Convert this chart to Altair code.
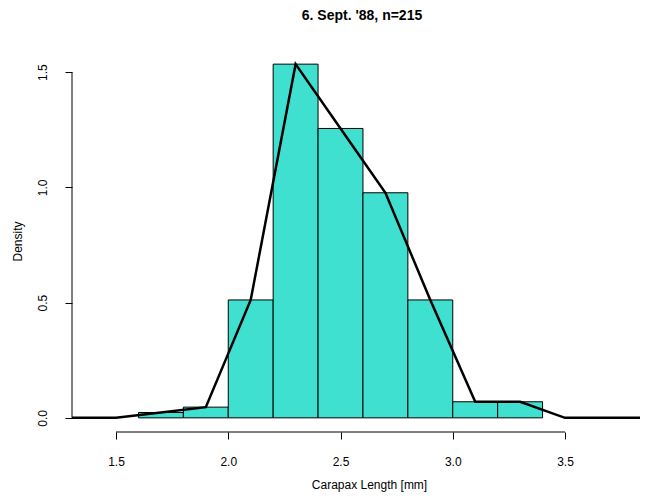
import altair as alt
import pandas as pd

# Histogram bins (density scale)
bin_start = [1.6, 1.8, 2.0, 2.2, 2.4, 2.6, 2.8, 3.0, 3.2]
bin_end = [1.8, 2.0, 2.2, 2.4, 2.6, 2.8, 3.0, 3.2, 3.4]
counts = [1, 2, 22, 66, 54, 42, 22, 3, 3]
n_total = 215
density = [c / n_total / 0.2 for c in counts]

# Frequency polygon points
poly_x = [1.3, 1.5, 1.7, 1.9, 2.1, 2.3, 2.5, 2.7, 2.9, 3.1, 3.3, 3.5, 3.7, 3.9]
poly_y = [0.0, 0.0, density[0], density[1], density[2], density[3], density[4],
          density[5], density[6], density[7], density[8], 0.0, 0.0, 0.0]

x_ticks = [1.5, 2.0, 2.5, 3.0, 3.5]
y_ticks = [0.0, 0.5, 1.0, 1.5]

W, H = 568, 382
FONT = "Liberation Sans"

hist_df = pd.DataFrame({"start": bin_start, "end": bin_end, "density": density})
poly_df = pd.DataFrame({"x": poly_x, "y": poly_y, "order": list(range(len(poly_x)))})

xscale = alt.Scale(domain=[1.304, 3.834], nice=False, zero=False)
yscale = alt.Scale(domain=[-0.0614, 1.5963], nice=False, zero=False)

xaxis = alt.Axis(values=x_ticks, format=".1f", domain=False, grid=False,
                 tickColor="black", tickSize=7, labelFontSize=12, labelFont=FONT,
                 labelColor="black", labelPadding=17,
                 title="Carapax Length [mm]", titleFont=FONT, titleFontSize=12,
                 titleFontWeight="normal", titleColor="black",
                 titleX=297, titleY=52, titleBaseline="middle", titleAlign="center")
yaxis = alt.Axis(values=y_ticks, format=".1f", domain=False, grid=False,
                 tickColor="black", tickSize=7, labelFontSize=12, labelFont=FONT,
                 labelColor="black", labelAngle=-90, labelAlign="center",
                 labelBaseline="bottom", labelPadding=16,
                 title="Density", titleFont=FONT, titleFontSize=12,
                 titleFontWeight="normal", titleColor="black", titlePadding=12)

bars = alt.Chart(hist_df).mark_rect(fill="#40E0D0", stroke="black", strokeWidth=1).encode(
    x=alt.X("start:Q", scale=xscale, axis=xaxis),
    x2="end:Q",
    y=alt.Y("density:Q", scale=yscale, axis=yaxis),
    y2=alt.datum(0),
)

line = alt.Chart(poly_df).mark_line(color="black", strokeWidth=2.5, clip=True).encode(
    x=alt.X("x:Q", scale=xscale),
    y=alt.Y("y:Q", scale=yscale),
    order="order:Q",
)

xline = alt.Chart(pd.DataFrame({"a": [x_ticks[0]], "b": [x_ticks[-1]]})).mark_rule(
    color="black", strokeWidth=1).encode(
    x=alt.X("a:Q", scale=xscale), x2="b:Q", y=alt.value(H))

yline = alt.Chart(pd.DataFrame({"a": [y_ticks[0]], "b": [y_ticks[-1]]})).mark_rule(
    color="black", strokeWidth=1).encode(
    y=alt.Y("a:Q", scale=yscale), y2="b:Q", x=alt.value(0))

chart = alt.layer(bars, line, xline, yline).properties(
    width=W, height=H,
    background="white",
    title=alt.TitleParams("6. Sept. '88, n=215", font=FONT, fontSize=14,
                          fontWeight="bold", color="black", anchor="middle",
                          offset=27, dx=6),
    autosize=alt.AutoSizeParams(type="none"),
    padding={"left": 64, "top": 42, "right": 0, "bottom": 62},
).configure_view(stroke=None)

chart.save("out.html", embed_options={"renderer": "svg", "actions": False})
